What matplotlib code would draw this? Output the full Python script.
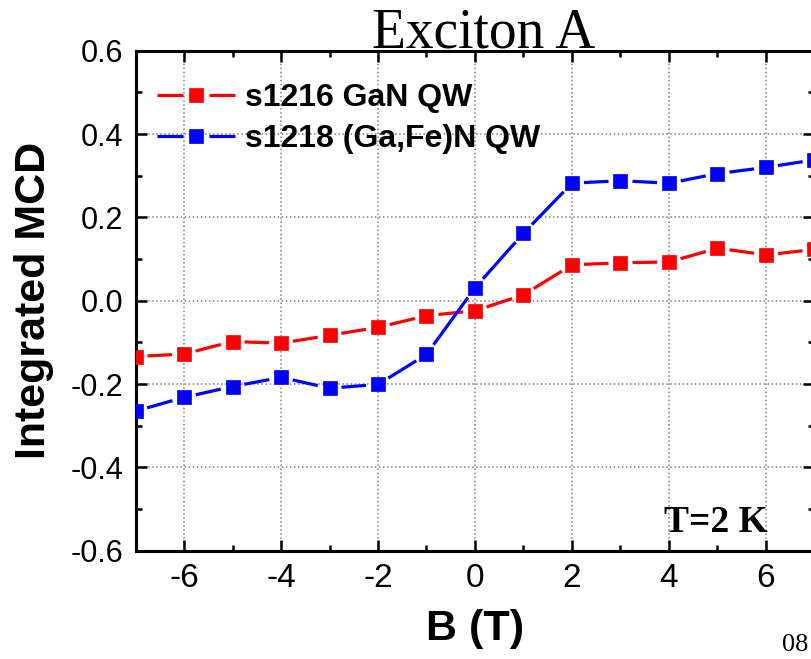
import numpy as np
import matplotlib.pyplot as plt
from matplotlib.lines import Line2D
from matplotlib.ticker import MultipleLocator, FormatStrFormatter

plt.rcParams['axes.unicode_minus'] = False

# magnetic field (T)
field = [-7, -6, -5, -4, -3, -2, -1, 0, 1, 2, 3, 4, 5, 6, 7]

# integrated MCD
mcd_gan = [-0.134, -0.128, -0.098, -0.102, -0.083, -0.064, -0.036, -0.024,
           0.014, 0.086, 0.091, 0.093, 0.126, 0.110, 0.123]
mcd_gafen = [-0.265, -0.232, -0.206, -0.184, -0.210, -0.201, -0.129, 0.031,
             0.162, 0.282, 0.288, 0.282, 0.305, 0.320, 0.338]

label_gan = 's1216 GaN QW'
label_gafen = 's1218 (Ga,Fe)N QW'

fig = plt.figure(figsize=(8.11, 6.59), dpi=100)
ax = fig.add_axes([135.5 / 811, 1 - 550.7 / 659, 679 / 811, 500 / 659])
ax.set_xlim(-7, 7)
ax.set_ylim(-0.6, 0.6)


def gapped_line(x, y, color, gap_px=12):
    # Origin style "gap to symbol": segments stop short of each marker
    pts = ax.transData.transform(np.column_stack([x, y]))
    inv = ax.transData.inverted()
    for p0, p1 in zip(pts[:-1], pts[1:]):
        d = p1 - p0
        n = np.hypot(*d)
        if n <= 2 * gap_px:
            continue
        u = d / n
        a, b = inv.transform([p0 + u * gap_px, p1 - u * gap_px])
        ax.plot([a[0], b[0]], [a[1], b[1]], color=color, linewidth=2.3,
                solid_capstyle='butt', zorder=2)
    ax.plot(x, y, linestyle='none', marker='s', markersize=10, color=color,
            markeredgewidth=0.5, zorder=3)


gapped_line(field, mcd_gan, '#ff0000')
gapped_line(field, mcd_gafen, '#0000ff')

ax.xaxis.set_major_locator(MultipleLocator(2))
ax.xaxis.set_minor_locator(MultipleLocator(1))
ax.yaxis.set_major_locator(MultipleLocator(0.2))
ax.yaxis.set_minor_locator(MultipleLocator(0.1))
ax.yaxis.set_major_formatter(FormatStrFormatter('%.1f'))

ax.grid(True, which='major', linestyle=':', color='#808080', linewidth=1.1)
ax.tick_params(which='both', direction='in', top=True, right=True, width=1.8)
ax.tick_params(which='major', length=8, pad=9)
ax.tick_params(which='minor', length=4)
ax.tick_params(axis='x', labelsize=24)
ax.tick_params(axis='y', labelsize=22)
for t in ax.get_xticklabels() + ax.get_yticklabels():
    t.set_fontfamily('Liberation Sans')
for s in ax.spines.values():
    s.set_linewidth(2.2)

ax.set_xlabel('B (T)', fontsize=31, fontweight='bold',
              fontfamily='Liberation Sans', labelpad=11)
ax.set_ylabel('Integrated MCD', fontsize=31, fontweight='bold',
              fontfamily='Liberation Sans', labelpad=12)

fig.text(483.5 / 811, 1 - 47 / 659, 'Exciton A', fontsize=40,
         fontfamily='Liberation Serif', ha='center', va='baseline')
fig.text(768 / 811, 1 - 532 / 659, 'T=2 K', fontsize=27, fontweight='bold',
         fontfamily='Liberation Serif', ha='right', va='baseline')
fig.text(782 / 811, 1 - 651 / 659, '08', fontsize=19,
         fontfamily='Liberation Serif', ha='left', va='baseline')

# legend handles: dash - square - dash
leg_size = 23
fs_px = leg_size * 100 / 72
hl_px = 78
lw = 2.3
lw_px = lw * 100 / 72
mid_gap = 26
seg = (hl_px - mid_gap) / 2
handles = [Line2D([], [], color=c, linewidth=lw, marker='s', markersize=10,
                  markeredgewidth=0.5, solid_capstyle='butt',
                  dash_capstyle='butt',
                  linestyle=(0, (seg / lw_px, mid_gap / lw_px, seg / lw_px, 50)))
           for c in ('#ff0000', '#0000ff')]
ax.legend(handles, [label_gan, label_gafen], loc='center left',
          bbox_to_anchor=((157 - 135.5) / 679, (550.7 - 118.5) / 500),
          frameon=False, borderpad=0, borderaxespad=0,
          prop={'family': 'Liberation Sans', 'weight': 'bold', 'size': leg_size},
          handlelength=hl_px / fs_px, handletextpad=10 / fs_px,
          labelspacing=0.35)

fig.savefig('out.png', dpi=100)
